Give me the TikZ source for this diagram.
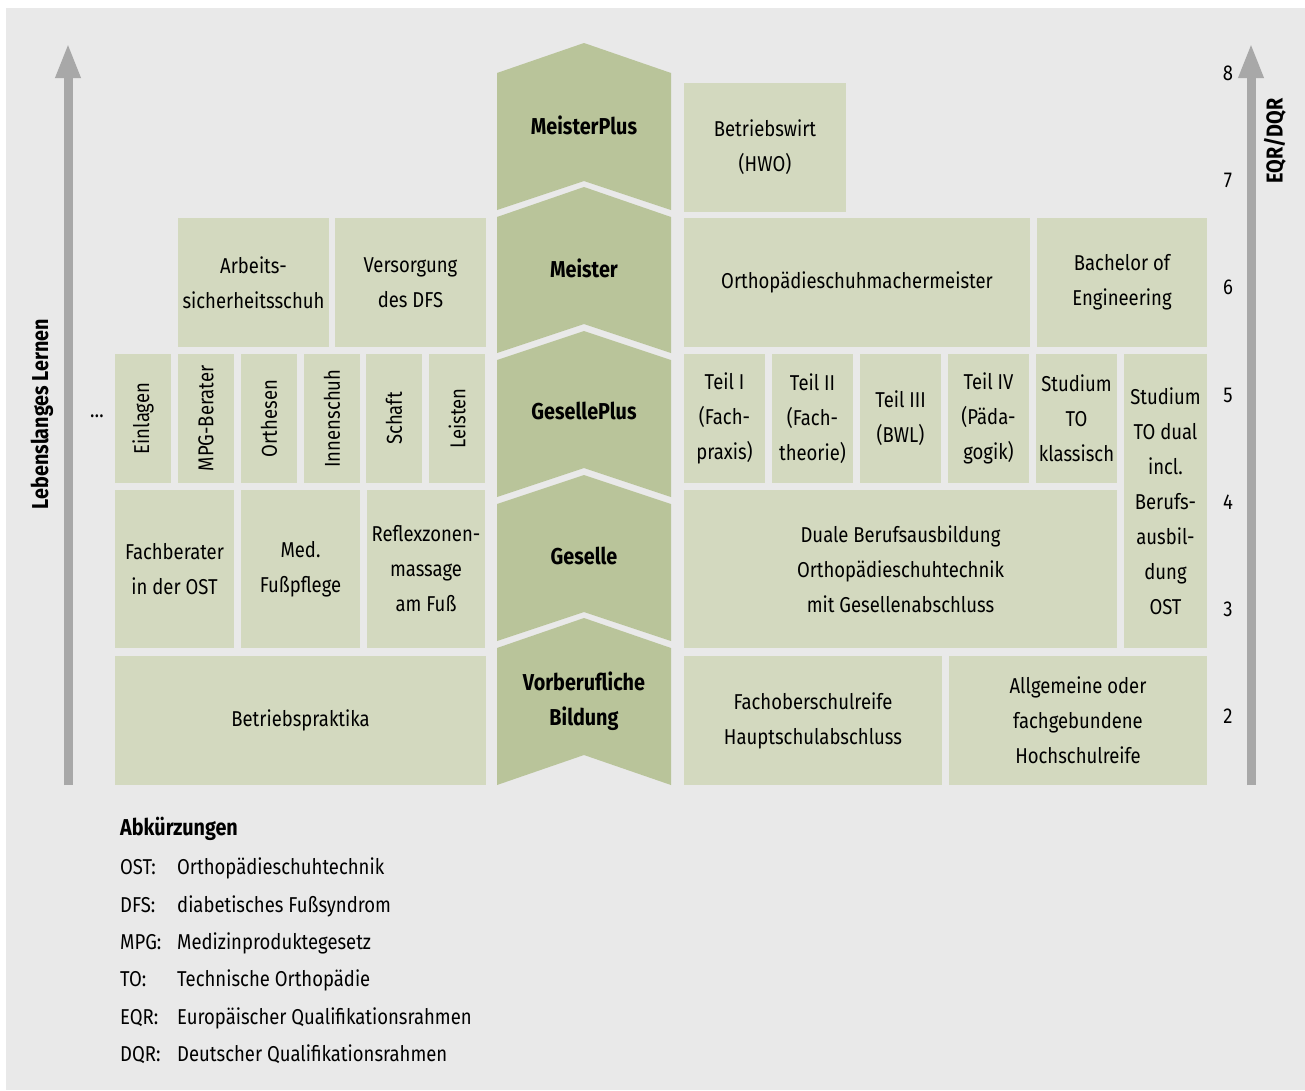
\documentclass[tikz,border=0pt]{standalone}
\usepackage{fontspec}
\setmainfont{Fira Sans}[FakeStretch=0.86]
\usepackage{tikz}
\usetikzlibrary{arrows.meta}
\definecolor{hintergrund}{RGB}{233,233,233}
\definecolor{feldgruen}{RGB}{211,217,191}
\definecolor{stufengruen}{RGB}{185,196,154}
\definecolor{pfeilgrau}{RGB}{168,168,168}
\tikzset{
  schrift/.style={font=\fontsize{21.5}{35}\selectfont},
  feld/.style={schrift, fill=feldgruen, inner sep=0pt, align=center},
  stufe/.style={fill=stufengruen},
  stufentext/.style={align=center, inner sep=0pt, font=\fontsize{23}{35}\selectfont\bfseries},
  pfeil/.style={draw=pfeilgrau, line width=9pt, -{Triangle[width=23pt,length=35pt]}},
  niveau/.style={schrift, inner sep=0pt},
  legende/.style={schrift, inner sep=0pt, anchor=base west}
}

\begin{document}
\begin{tikzpicture}[x=1pt, y=-1pt]
\useasboundingbox (0,0) rectangle (1305,1090);
\fill[hintergrund] (6,8) rectangle (1305,1090);

\coordinate (lernen unten) at (68,785);
\coordinate (lernen oben) at (68,43);
\coordinate (eqr unten) at (1251,785);
\coordinate (eqr oben) at (1251,43);

\draw[pfeil] (lernen unten) -- (lernen oben);
\draw[pfeil] (eqr unten) -- (eqr oben);
\node[stufentext, rotate=90] (lernen) at (42,414) {Lebenslanges Lernen};
\node[stufentext, rotate=90] (eqr) at (1275,141) {EQR/DQR};

\node[niveau] (n8) at (1228,73) {8};
\node[niveau] (n7) at (1228,180) {7};
\node[niveau] (n6) at (1228,287) {6};
\node[niveau] (n5) at (1228,395) {5};
\node[niveau] (n4) at (1228,502) {4};
\node[niveau] (n3) at (1228,609) {3};
\node[niveau] (n2) at (1228,716) {2};

% Stufen in der Mitte
\fill[stufe] (497,73) -- (584,43) -- (671,73) -- (671,210) -- (584,181) -- (497,210) -- cycle;
\fill[stufe] (497,217) -- (584,187) -- (671,217) -- (671,353) -- (584,324) -- (497,353) -- cycle;
\fill[stufe] (497,360) -- (584,331) -- (671,360) -- (671,497) -- (584,468) -- (497,497) -- cycle;
\fill[stufe] (497,504) -- (584,475) -- (671,504) -- (671,641) -- (584,612) -- (497,641) -- cycle;
\fill[stufe] (497,648) -- (584,618) -- (671,648) -- (671,785) -- (584,755) -- (497,785) -- cycle;

\node[stufentext] (meisterplus) at (584,125) {MeisterPlus};
\node[stufentext] (meister) at (584,268) {Meister};
\node[stufentext] (geselleplus) at (584,411) {GesellePlus};
\node[stufentext] (geselle) at (584,556) {Geselle};
\node[stufentext] (vorberuflich) at (584,701) {Vorberufliche\\Bildung};

% links
\node[feld, minimum width=151pt, minimum height=129pt] (arbeitsschuh) at (253.5,282.5) {Arbeits-\\sicherheitsschuh};
\node[feld, minimum width=151pt, minimum height=129pt] (dfs) at (410.5,282.5) {Versorgung\\des DFS};

\node[schrift, inner sep=0pt] (weitere) at (97,416) {\dots};
\node[feld, rotate=90, minimum width=129pt, minimum height=56pt] (einlagen) at (143,418.5) {Einlagen};
\node[feld, rotate=90, minimum width=129pt, minimum height=56pt] (mpg) at (206,418.5) {MPG-Berater};
\node[feld, rotate=90, minimum width=129pt, minimum height=56pt] (orthesen) at (269,418.5) {Orthesen};
\node[feld, rotate=90, minimum width=129pt, minimum height=56pt] (innenschuh) at (332,418.5) {Innenschuh};
\node[feld, rotate=90, minimum width=129pt, minimum height=56pt] (schaft) at (394,418.5) {Schaft};
\node[feld, rotate=90, minimum width=129pt, minimum height=56pt] (leisten) at (457,418.5) {Leisten};

\node[feld, minimum width=119pt, minimum height=158pt] (fachberater) at (174.5,569) {Fachberater\\in der OST};
\node[feld, minimum width=119pt, minimum height=158pt] (fusspflege) at (300.5,569) {Med.\\Fußpflege};
\node[feld, minimum width=118pt, minimum height=158pt] (reflexzonen) at (426,569) {Reflexzonen-\\massage\\am Fuß};

\node[feld, minimum width=371pt, minimum height=129pt] (praktika) at (300.5,720.5) {Betriebspraktika};

% rechts
\node[feld, minimum width=162pt, minimum height=129pt] (betriebswirt) at (765,147.5) {Betriebswirt\\(HWO)};

\node[feld, minimum width=346pt, minimum height=129pt] (meisterbrief) at (857,282.5) {Orthopädieschuhmachermeister};
\node[feld, minimum width=170pt, minimum height=129pt] (bachelor) at (1122,282.5) {Bachelor of\\Engineering};

\node[feld, minimum width=81pt, minimum height=129pt] (teil1) at (724.5,418.5) {Teil I\\(Fach-\\praxis)};
\node[feld, minimum width=81pt, minimum height=129pt] (teil2) at (812.5,418.5) {Teil II\\(Fach-\\theorie)};
\node[feld, minimum width=81pt, minimum height=129pt] (teil3) at (900.5,418.5) {Teil III\\(BWL)};
\node[feld, minimum width=81pt, minimum height=129pt] (teil4) at (988.5,418.5) {Teil IV\\(Päda-\\gogik)};
\node[feld, minimum width=81pt, minimum height=129pt] (klassisch) at (1076.5,418.5) {Studium\\TO\\klassisch};
\node[feld, minimum width=83pt, minimum height=294pt] (dual) at (1165.5,501) {Studium\\TO dual\\incl.\\Berufs-\\ausbil-\\dung\\OST};

\node[feld, minimum width=433pt, minimum height=158pt] (ausbildung) at (900.5,569) {Duale Berufsausbildung\\Orthopädieschuhtechnik\\mit Gesellenabschluss};

\node[feld, minimum width=258pt, minimum height=129pt] (fachober) at (813,720.5) {Fachoberschulreife\\Hauptschulabschluss};
\node[feld, minimum width=258pt, minimum height=129pt] (hochschulreife) at (1078,720.5) {Allgemeine oder\\fachgebundene\\Hochschulreife};

% Legende
\node[legende, font=\fontsize{23}{35}\selectfont\bfseries] (abk) at (120,835) {Abkürzungen};
\node[legende] (ost) at (120,874) {OST:};
\node[legende] (ost text) at (177,874) {Orthopädieschuhtechnik};
\node[legende] (dfs kurz) at (120,912) {DFS:};
\node[legende] (dfs text) at (177,912) {diabetisches Fußsyndrom};
\node[legende] (mpg kurz) at (120,949) {MPG:};
\node[legende] (mpg text) at (177,949) {Medizinproduktegesetz};
\node[legende] (to kurz) at (120,986) {TO:};
\node[legende] (to text) at (177,986) {Technische Orthopädie};
\node[legende] (eqr kurz) at (120,1024) {EQR:};
\node[legende] (eqr text) at (177,1024) {Europäischer Qualifikationsrahmen};
\node[legende] (dqr kurz) at (120,1061) {DQR:};
\node[legende] (dqr text) at (177,1061) {Deutscher Qualifikationsrahmen};

\end{tikzpicture}
\end{document}
